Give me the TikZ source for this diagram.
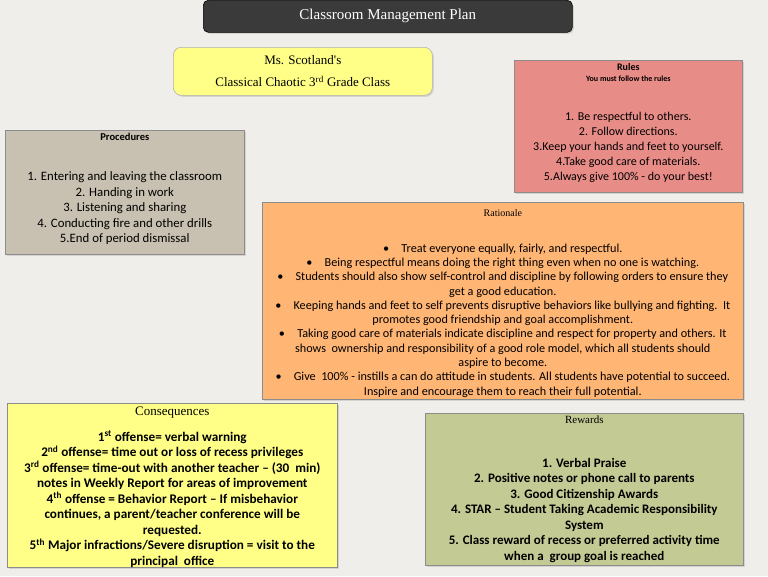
\documentclass[tikz,border=0pt]{standalone}
\usepackage{fontspec}
\setmainfont{Carlito}
\newfontfamily\headfont{Liberation Serif}
\usetikzlibrary{positioning,shadows}
\definecolor{bgcol}{HTML}{EFEEEA}
\definecolor{titlecol}{HTML}{3A3A3A}
\definecolor{namecol}{HTML}{FFFF88}
\definecolor{rulecol}{HTML}{E88C88}
\definecolor{proccol}{HTML}{C8C0B0}
\definecolor{ratcol}{HTML}{FFB574}
\definecolor{conscol}{HTML}{FFFF88}
\definecolor{rewcol}{HTML}{C3CA93}
\tikzset
{
    panel/.style = {rectangle, draw=black!45, line width=0.6pt, anchor=north west, align=center, inner sep=3pt, drop shadow={opacity=0.25, shadow xshift=1.5pt, shadow yshift=-1.5pt}},
    txt/.style = {align=center, inner sep=1pt}
}
\begin{document}
\begin{tikzpicture}[x=1pt, y=-1pt]
   \fill[bgcol] (0,0) rectangle (768,576);
   \useasboundingbox (0,0) rectangle (768,576);

   \node (title) [panel, rounded corners=5pt, fill=titlecol, draw=black, minimum width=369pt, minimum height=32pt, text=white, font=\headfont\fontsize{15}{17}\selectfont] at (203,0) {Classroom Management Plan};

   \node (name) [panel, rounded corners=8pt, fill=namecol, draw=black!30, minimum width=259pt, minimum height=48pt, font=\headfont\fontsize{13}{22}\selectfont] at (173,47)
      {Ms. Scotland's\\Classical Chaotic 3\textsuperscript{rd} Grade Class};

   \node (rules) [panel, fill=rulecol, minimum width=228pt, minimum height=132pt] at (514,60) {};
   \node (rh) [txt, below=2pt of rules.north, font=\bfseries\fontsize{10}{11}\selectfont] {Rules};
   \node (rs) [txt, below=3pt of rh, font=\bfseries\fontsize{8}{9}\selectfont] {You must follow the rules};
   \node (rl) [txt, below=28pt of rs, font=\fontsize{12}{15}\selectfont] {1. Be respectful to others.\\2. Follow directions.\\3.Keep your hands and feet to yourself.\\4.Take good care of materials.\\5.Always give 100\% - do your best!};

   \node (proc) [panel, fill=proccol, minimum width=239pt, minimum height=124pt] at (5,130) {};
   \node (ph) [txt, below=2pt of proc.north, font=\bfseries\fontsize{10.5}{12}\selectfont] {Procedures};
   \node (pl) [txt, below=29pt of ph, font=\fontsize{12.8}{15.5}\selectfont] {1. Entering and leaving the classroom\\2. Handing in work\\3. Listening and sharing\\4. Conducting fire and other drills\\5.End of period dismissal};

   \node (rat) [panel, fill=ratcol, minimum width=481pt, minimum height=197pt] at (262,202) {};
   \node (rth) [txt, below=6pt of rat.north, font=\headfont\fontsize{10}{11}\selectfont] {Rationale};
   \node (rtl) [txt, below=25pt of rth, font=\fontsize{12.2}{14.3}\selectfont]
      {\textbullet\quad Treat everyone equally, fairly, and respectful.\\
       \textbullet\quad Being respectful means doing the right thing even when no one is watching.\\
       \textbullet\quad Students should also show self-control and discipline by following orders to ensure they\\
       get a good education.\\
       \textbullet\quad Keeping hands and feet to self prevents disruptive behaviors like bullying and fighting.\ \ It\\
       promotes good friendship and goal accomplishment.\\
       \textbullet\quad Taking good care of materials indicate discipline and respect for property and others. It\\
       shows\ \ ownership and responsibility of a good role model, which all students should\\
       aspire to become.\\
       \textbullet\quad Give\ \ 100\% - instills a can do attitude in students. All students have potential to succeed.\\
       Inspire and encourage them to reach their full potential.};

   \node (cons) [panel, fill=conscol, minimum width=330pt, minimum height=164pt] at (7,403) {};
   \node (ch) [txt, below=3pt of cons.north, font=\headfont\fontsize{13}{14}\selectfont] {Consequences};
   \node (cl) [txt, below=10pt of ch, font=\bfseries\fontsize{13.2}{15.5}\selectfont]
      {1\textsuperscript{st} offense= verbal warning\\
       2\textsuperscript{nd} offense= time out or loss of recess privileges\\
       3\textsuperscript{rd} offense= time-out with another teacher -- (30\ \ min)\\
       notes in Weekly Report for areas of improvement\\
       4\textsuperscript{th} offense = Behavior Report -- If misbehavior\\
       continues, a parent/teacher conference will be\\
       requested.\\
       5\textsuperscript{th} Major infractions/Severe disruption = visit to the\\
       principal\ \ office};

   \node (rew) [panel, fill=rewcol, minimum width=318pt, minimum height=152pt] at (425,413) {};
   \node (wh) [txt, below=2pt of rew.north, font=\headfont\fontsize{11}{12}\selectfont] {Rewards};
   \node (wl) [txt, below=32pt of wh, font=\bfseries\fontsize{13}{15.5}\selectfont]
      {1. Verbal Praise\\
       2. Positive notes or phone call to parents\\
       3. Good Citizenship Awards\\
       4. STAR -- Student Taking Academic Responsibility\\
       System\\
       5. Class reward of recess or preferred activity time\\
       when a\ \ group goal is reached};
\end{tikzpicture}
\end{document}
